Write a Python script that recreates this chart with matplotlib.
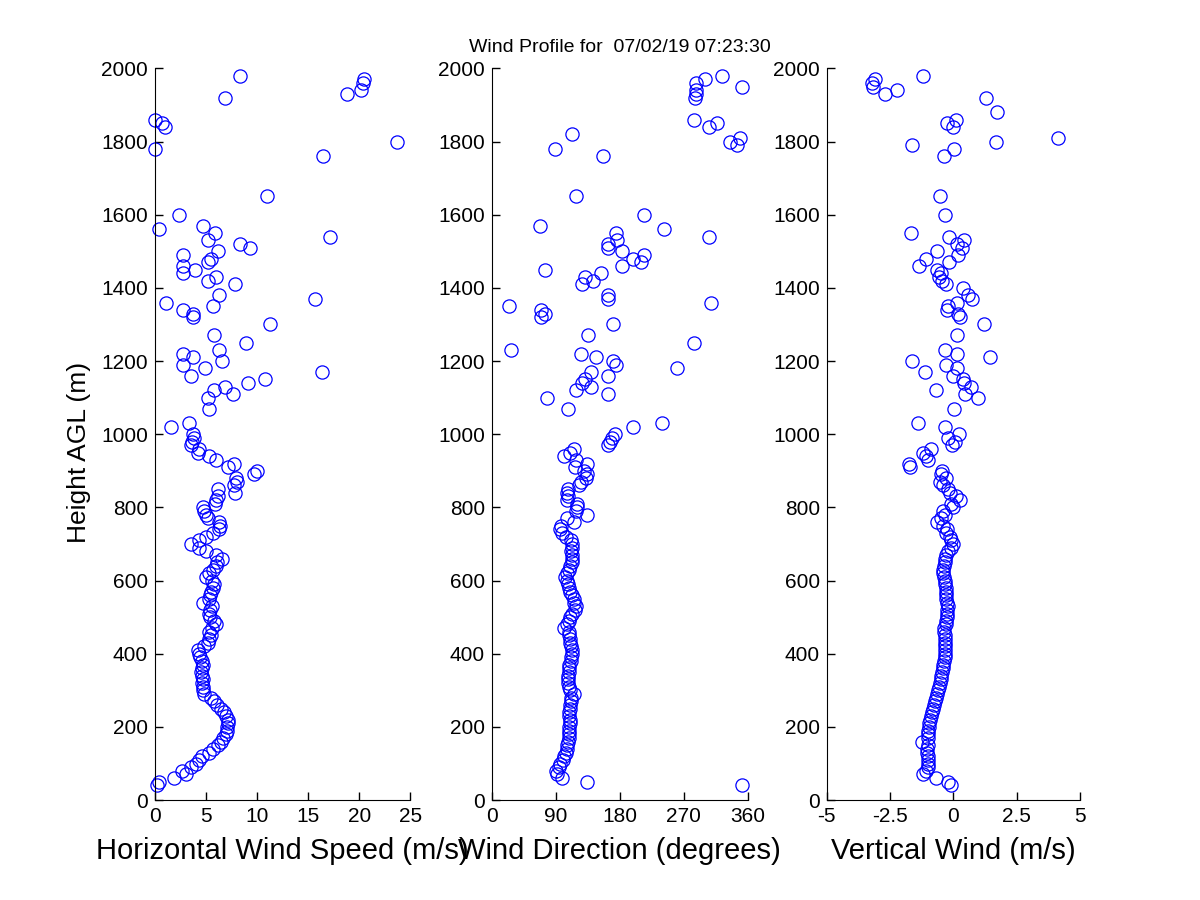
import matplotlib
matplotlib.use("Agg")
import matplotlib.pyplot as plt

plt.rcParams['font.family'] = ['Liberation Sans', 'DejaVu Sans']

# heights 40..990 m, measured in all three panels
low_h = [40, 50, 60, 70, 80, 90, 100, 110, 120, 130, 140, 150, 160, 170, 180, 190,
         200, 210, 220, 230, 240, 250, 260, 270, 280, 290, 300, 310, 320, 330, 340,
         350, 360, 370, 380, 390, 400, 410, 420, 430, 440, 450, 460, 470, 480, 490,
         500, 510, 520, 530, 540, 550, 560, 570, 580, 590, 600, 610, 620, 630, 640,
         650, 660, 670, 680, 690, 700, 710, 720, 730, 740, 750, 760, 770, 780, 790,
         800, 810, 820, 830, 840, 850, 860, 870, 880, 890, 900, 910, 920, 930, 940,
         950, 960, 970, 980, 990]

speed_low = [0.2, 0.4, 1.9, 3.1, 2.7, 3.5, 4.0, 4.3, 4.6, 5.3, 5.7, 6.2, 6.5, 6.7, 7.0, 7.1,
             7.1, 7.2, 7.2, 7.0, 6.8, 6.5, 6.1, 5.8, 5.5, 4.8, 4.7, 4.7, 4.6, 4.7, 4.6,
             4.5, 4.6, 4.7, 4.6, 4.4, 4.3, 4.2, 4.8, 5.2, 5.3, 5.5, 5.3, 5.6, 6.0, 5.8,
             5.4, 5.3, 5.4, 5.6, 4.7, 5.3, 5.4, 5.5, 5.7, 5.8, 5.6, 5.0, 5.3, 5.7, 6.0,
             6.1, 6.6, 6.0, 5.0, 4.3, 3.5, 4.3, 5.0, 5.7, 6.3, 6.4, 6.3, 5.2, 5.0, 4.8,
             4.7, 5.9, 6.0, 6.2, 7.8, 6.2, 7.7, 8.0, 7.9, 9.7, 10.0, 7.2, 7.7, 6.0, 5.3,
             4.2, 4.3, 3.5, 3.6, 3.8]

dir_low = [352, 134, 98, 92, 90, 94, 96, 100, 102, 104, 105, 106, 107, 108, 108, 109,
           109, 110, 110, 109, 109, 110, 110, 111, 111, 116, 110, 108, 107, 107, 107,
           108, 108, 109, 111, 111, 112, 112, 111, 110, 110, 109, 108, 101, 106, 108,
           110, 113, 117, 118, 116, 115, 113, 110, 109, 107, 106, 103, 106, 108, 110,
           112, 113, 112, 111, 112, 112, 111, 104, 99, 96, 97, 116, 106, 134, 118,
           120, 120, 106, 107, 106, 107, 122, 126, 132, 134, 130, 117, 134, 118, 101,
           110, 116, 164, 166, 169]

vert_low = [-0.1, -0.2, -0.7, -1.2, -1.1, -1.0, -1.0, -1.0, -1.0, -1.05, -1.05, -1.0, -1.25,
            -1.0, -1.0, -1.0, -0.98, -0.95, -0.92, -0.88, -0.84, -0.8, -0.76, -0.72, -0.68,
            -0.65, -0.6, -0.57, -0.54, -0.5, -0.47, -0.45, -0.42, -0.4, -0.38, -0.35, -0.33,
            -0.33, -0.34, -0.33, -0.32, -0.34, -0.36, -0.37, -0.3, -0.28, -0.26, -0.25, -0.26,
            -0.22, -0.25, -0.28, -0.3, -0.3, -0.28, -0.32, -0.35, -0.38, -0.4, -0.42, -0.38,
            -0.35, -0.33, -0.3, -0.2, -0.1, 0.0, -0.1, -0.15, -0.3, -0.26, -0.4, -0.66, -0.5,
            -0.35, -0.4, 0.0, -0.1, 0.26, 0.1, -0.15, -0.2, -0.4, -0.53, -0.3, -0.5, -0.45,
            -1.7, -1.75, -1.0, -1.1, -1.2, -0.9, -0.05, 0.07, -0.2]

# sparse levels above 1000 m
speed_hi_h = [1000, 1020, 1030, 1070, 1100, 1110, 1120, 1130, 1140, 1150, 1160, 1170, 1180,
              1190, 1200, 1210, 1220, 1230, 1250, 1270, 1300, 1320, 1330, 1340, 1350, 1360,
              1370, 1380, 1410, 1420, 1430, 1440, 1450, 1460, 1470, 1480, 1490, 1500, 1510,
              1520, 1530, 1540, 1550, 1560, 1570, 1600, 1650, 1760, 1780, 1800, 1840, 1850,
              1860, 1920, 1930, 1940, 1960, 1970, 1980]
speed_hi = [3.7, 1.6, 3.3, 5.3, 5.2, 7.6, 5.8, 6.9, 9.1, 10.8, 3.5, 16.4, 4.9,
            2.8, 6.6, 3.7, 2.8, 6.3, 8.9, 5.8, 11.3, 3.7, 3.7, 2.8, 5.7, 1.1,
            15.7, 6.3, 7.8, 5.2, 6.0, 2.8, 3.9, 2.8, 5.2, 5.5, 2.8, 6.2, 9.3,
            8.3, 5.2, 17.1, 5.9, 0.4, 4.7, 2.4, 11.0, 16.5, 0.0, 23.7, 1.0, 0.7,
            0.0, 6.9, 18.8, 20.2, 20.4, 20.5, 8.3]

dir_hi_h = [1000, 1020, 1030, 1070, 1100, 1110, 1120, 1130, 1140, 1150, 1160, 1170, 1180,
            1190, 1200, 1210, 1220, 1230, 1250, 1270, 1300, 1320, 1330, 1340, 1350, 1360,
            1370, 1380, 1410, 1420, 1430, 1440, 1450, 1460, 1470, 1480, 1490, 1500, 1510,
            1520, 1530, 1540, 1550, 1560, 1570, 1600, 1650, 1760, 1780, 1790, 1800, 1810,
            1820, 1840, 1850, 1860, 1920, 1930, 1940, 1950, 1960, 1970, 1980]
dir_hi = [173, 198, 239, 107, 78, 163, 119, 139, 127, 131, 163, 139, 260,
          174, 170, 146, 126, 27, 284, 135, 170, 69, 74, 69, 24, 308,
          163, 163, 127, 142, 131, 153, 74, 183, 210, 198, 214, 183, 164,
          164, 176, 306, 174, 242, 67, 214, 119, 156, 89, 345, 335, 349,
          112, 305, 317, 285, 286, 288, 287, 352, 287, 300, 324]

vert_hi_h = [1000, 1020, 1030, 1070, 1100, 1110, 1120, 1130, 1140, 1150, 1160, 1170, 1180,
             1190, 1200, 1210, 1220, 1230, 1270, 1300, 1320, 1330, 1340, 1350, 1360, 1370,
             1380, 1400, 1410, 1420, 1430, 1440, 1450, 1460, 1470, 1480, 1490, 1500, 1510,
             1520, 1530, 1540, 1550, 1600, 1650, 1760, 1780, 1790, 1800, 1810, 1840, 1850,
             1860, 1880, 1920, 1930, 1940, 1950, 1960, 1970, 1980]
vert_hi = [0.21, -0.33, -1.41, 0.03, 0.97, 0.45, -0.68, 0.68, 0.43, 0.38, -0.02, -1.12, 0.13,
           -0.30, -1.62, 1.44, 0.13, -0.33, 0.13, 1.19, 0.26, 0.17, -0.25, -0.22, 0.14, 0.73,
           0.56, 0.39, -0.30, -0.45, -0.57, -0.47, -0.64, -1.36, -0.18, -1.07, 0.20, -0.64, 0.32,
           0.15, 0.40, -0.18, -1.69, -0.33, -0.54, -0.37, 0.02, -1.65, 1.69, 4.15, -0.02, -0.26,
           0.09, 1.71, 1.29, -2.71, -2.21, -3.19, -3.21, -3.08, -1.21]

title = "Wind Profile for  07/02/19 07:23:30"

fig = plt.figure(figsize=(12, 9), dpi=100)
bottom, height = 0.111, 0.813
ax1 = fig.add_axes([0.129, bottom, 0.213, height])
ax2 = fig.add_axes([0.410, bottom, 0.213, height])
ax3 = fig.add_axes([0.689, bottom, 0.211, height])

panels = [
    (ax1, speed_low + speed_hi, low_h + speed_hi_h, (0, 25), [0, 5, 10, 15, 20, 25],
     ['0', '5', '10', '15', '20', '25'], 'Horizontal Wind Speed (m/s)'),
    (ax2, dir_low + dir_hi, low_h + dir_hi_h, (0, 360), [0, 90, 180, 270, 360],
     ['0', '90', '180', '270', '360'], 'Wind Direction (degrees)'),
    (ax3, vert_low + vert_hi, low_h + vert_hi_h, (-5, 5), [-5, -2.5, 0, 2.5, 5],
     ['-5', '-2.5', '0', '2.5', '5'], 'Vertical Wind (m/s)'),
]

for ax, xs, ys, xlim, xt, xtl, xlab in panels:
    ax.plot(xs, ys, 'o', mfc='none', mec='blue', ms=9.5, mew=0.9, clip_on=False)
    ax.set_xlim(*xlim)
    ax.set_ylim(0, 2000)
    ax.set_xticks(xt)
    ax.set_xticklabels(xtl)
    ax.set_yticks(range(0, 2001, 200))
    ax.spines['top'].set_visible(False)
    ax.spines['right'].set_visible(False)
    ax.tick_params(direction='in', length=6, width=1, labelsize=15, pad=5)
    ax.set_xlabel(xlab, fontsize=21, labelpad=8)

ax1.set_ylabel('Height AGL (m)', fontsize=19)
ax1.yaxis.set_label_coords(-0.25, 0.475)
ax2.set_title(title, fontsize=14, pad=12)

fig.savefig('out.png', dpi=100)
